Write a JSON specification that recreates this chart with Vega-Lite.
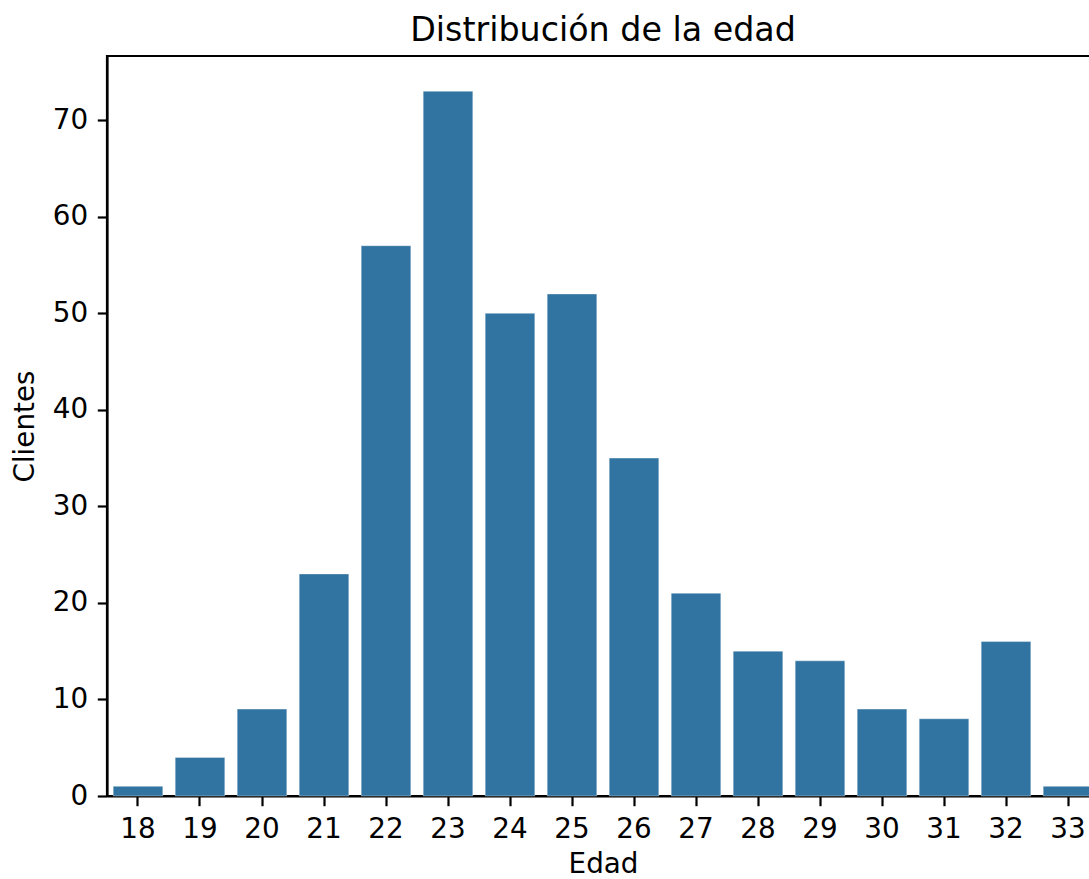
{
  "$schema": "https://vega.github.io/schema/vega-lite/v6.json",
  "autosize": {"type": "none"},
  "padding": {"left": 107, "top": 56, "right": 0, "bottom": 83},
  "width": 992,
  "height": 740,
  "background": "white",
  "title": {
    "text": "Distribución de la edad",
    "font": "DejaVu Sans",
    "fontSize": 33.3,
    "fontWeight": "normal",
    "color": "#000000",
    "baseline": "alphabetic",
    "anchor": "middle",
    "offset": 16.5,
    "dy": 35
  },
  "config": {
    "view": {"stroke": "#000000", "strokeWidth": 2.2},
    "axis": {
      "labelFont": "DejaVu Sans",
      "titleFont": "DejaVu Sans",
      "labelFontSize": 27.8,
      "titleFontSize": 27.8,
      "titleFontWeight": "normal",
      "labelColor": "#000000",
      "titleColor": "#000000",
      "domainColor": "#000000",
      "domainWidth": 2.2,
      "tickColor": "#000000",
      "tickWidth": 2.2,
      "tickSize": 9.7,
      "labelPadding": 9.7,
      "grid": false
    }
  },
  "data": {
    "values": [
      {"Edad": 18, "Clientes": 1},
      {"Edad": 19, "Clientes": 4},
      {"Edad": 20, "Clientes": 9},
      {"Edad": 21, "Clientes": 23},
      {"Edad": 22, "Clientes": 57},
      {"Edad": 23, "Clientes": 73},
      {"Edad": 24, "Clientes": 50},
      {"Edad": 25, "Clientes": 52},
      {"Edad": 26, "Clientes": 35},
      {"Edad": 27, "Clientes": 21},
      {"Edad": 28, "Clientes": 15},
      {"Edad": 29, "Clientes": 14},
      {"Edad": 30, "Clientes": 9},
      {"Edad": 31, "Clientes": 8},
      {"Edad": 32, "Clientes": 16},
      {"Edad": 33, "Clientes": 1}
    ]
  },
  "mark": {"type": "bar", "color": "#3274a1", "stroke": "#ffffff", "strokeWidth": 0.6, "strokeOpacity": 0.6},
  "encoding": {
    "x": {
      "field": "Edad",
      "type": "ordinal",
      "scale": {"paddingInner": 0.2, "paddingOuter": 0.1},
      "axis": {"title": "Edad", "labelAngle": 0, "titlePadding": 7}
    },
    "y": {
      "field": "Clientes",
      "type": "quantitative",
      "scale": {"domain": [0, 76.65], "nice": false, "zero": true},
      "axis": {"title": "Clientes", "values": [0, 10, 20, 30, 40, 50, 60, 70], "titlePadding": 13}
    }
  }
}
